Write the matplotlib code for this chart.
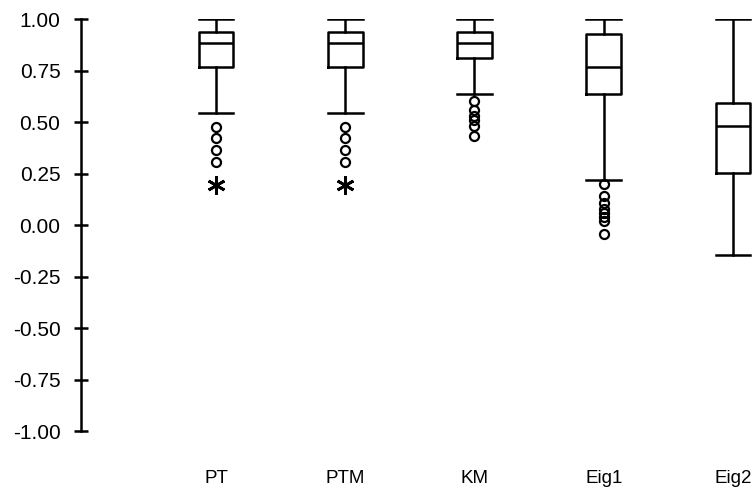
import matplotlib
matplotlib.use("Agg")
import matplotlib.pyplot as plt

plt.rcParams['font.family'] = ['Liberation Sans', 'DejaVu Sans']

# Box statistics
labels = ['PT', 'PTM', 'KM', 'Eig1', 'Eig2']
whis_hi = [1.00, 1.00, 1.00, 1.00, 1.00]
q3 = [0.935, 0.935, 0.935, 0.927, 0.594]
med = [0.882, 0.882, 0.882, 0.768, 0.480]
q1 = [0.767, 0.767, 0.809, 0.634, 0.254]
whis_lo = [0.542, 0.542, 0.636, 0.220, -0.146]

# outliers (circles) and extreme values (asterisks)
outliers = [
    [0.477, 0.421, 0.364, 0.307],
    [0.477, 0.421, 0.364, 0.307],
    [0.600, 0.560, 0.530, 0.510, 0.480, 0.430],
    [0.198, 0.141, 0.105, 0.080, 0.060, 0.040, 0.020, -0.045],
    [],
]
extremes = [[0.194], [0.194], [], [], []]

positions = list(range(1, len(labels) + 1))

stats = []
for i in range(len(labels)):
    stats.append({
        'whishi': whis_hi[i], 'q3': q3[i], 'med': med[i],
        'q1': q1[i], 'whislo': whis_lo[i], 'fliers': outliers[i],
    })

fig = plt.figure(figsize=(7.54, 4.90), dpi=100)
ax = fig.add_axes([0.1074, 0.1204, 0.8926, 0.8408])

lw = 1.8
ax.bxp(stats, positions=positions, widths=0.27, capwidths=0.27,
       boxprops=dict(color='black', linewidth=lw),
       medianprops=dict(color='black', linewidth=lw),
       whiskerprops=dict(color='black', linewidth=lw),
       capprops=dict(color='black', linewidth=lw),
       flierprops=dict(marker='o', markersize=6.5, markerfacecolor='none',
                       markeredgecolor='black', markeredgewidth=1.6))

for p, ex in zip(positions, extremes):
    if ex:
        ax.plot([p] * len(ex), ex, linestyle='none', marker=(6, 2, 0),
                markersize=13, markeredgewidth=2, color='black')

ax.set_ylim(-1.0, 1.0)
ax.set_xlim(1 - 135 / 129.25, 5 + 21 / 129.25)
ax.set_yticks([1.0, 0.75, 0.5, 0.25, 0.0, -0.25, -0.5, -0.75, -1.0])
ax.set_yticklabels(['1.00', '0.75', '0.50', '0.25', '0.00', '-0.25', '-0.50', '-0.75', '-1.00'])
ax.set_xticks(positions)
ax.set_xticklabels(labels)

for s in ['top', 'right', 'bottom']:
    ax.spines[s].set_visible(False)
ax.spines['left'].set_linewidth(lw)
ax.tick_params(axis='y', direction='inout', length=9.5, width=lw, pad=10, labelsize=15)
ax.tick_params(axis='x', length=0, pad=28, labelsize=13.5)

fig.savefig('out.png', dpi=100)
